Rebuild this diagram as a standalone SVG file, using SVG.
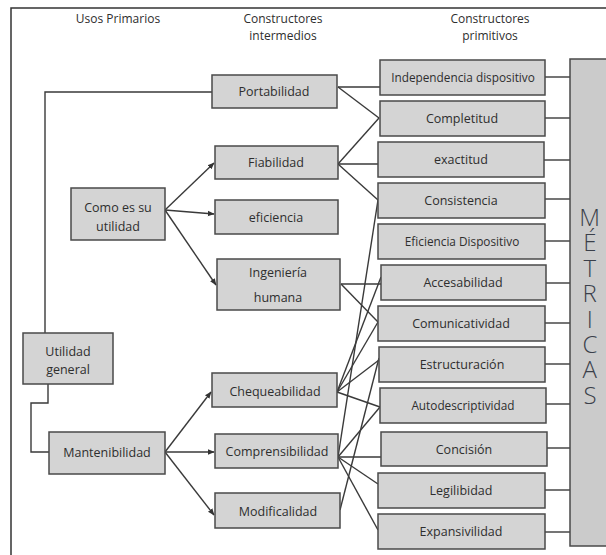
<svg xmlns="http://www.w3.org/2000/svg" width="606" height="555" viewBox="0 0 606 555">
<style>
.box{fill:#d4d4d4;stroke:#4a4a4a;stroke-width:1.5}
.t{font-family:"Open Sans","Noto Sans",sans-serif;font-size:12.5px;fill:#2e2e2e;text-anchor:middle}
.s{font-size:11.8px}
.h{font-family:"Open Sans","Noto Sans",sans-serif;font-size:12px;fill:#2e2e2e;text-anchor:middle}
.m{font-family:"Open Sans","Noto Sans",sans-serif;font-size:24px;fill:#3a3f4a;font-weight:300;writing-mode:vertical-rl;text-orientation:upright;letter-spacing:-7.6px}
.c{fill:none;stroke:#3a3a3a;stroke-width:1.4}
</style>
<defs>
<marker id="ah" viewBox="0 0 10 10" refX="9" refY="5" markerWidth="7" markerHeight="7" orient="auto" markerUnits="userSpaceOnUse">
<path d="M0,1 L10,5 L0,9 z" fill="#333"/>
</marker>
</defs>
<rect x="0" y="0" width="606" height="555" fill="#fff"/>
<rect x="11" y="8" width="620" height="570" fill="none" stroke="#333" stroke-width="1.5"/>
<g id="headers">
<text class="h" x="118" y="23">Usos Primarios</text>
<text class="h" x="283" y="23">Constructores</text>
<text class="h" x="283" y="40">intermedios</text>
<text class="h" x="490" y="23">Constructores</text>
<text class="h" x="490" y="40">primitivos</text>
</g>
<g id="connectors">
<path class="c" d="M45,333 V92 H212"/>
<path class="c" d="M48,384 V403 H31 V452 H49"/>
<line class="c" x1="165" y1="210" x2="214" y2="163" marker-end="url(#ah)"/>
<line class="c" x1="165" y1="210" x2="214" y2="214" marker-end="url(#ah)"/>
<line class="c" x1="165" y1="210" x2="216" y2="285" marker-end="url(#ah)"/>
<line class="c" x1="165" y1="452" x2="211" y2="392" marker-end="url(#ah)"/>
<line class="c" x1="165" y1="452" x2="214" y2="452" marker-end="url(#ah)"/>
<line class="c" x1="165" y1="452" x2="214" y2="515" marker-end="url(#ah)"/>
<line class="c" x1="338" y1="87" x2="380" y2="87"/>
<line class="c" x1="338" y1="87" x2="379" y2="118"/>
<line class="c" x1="338" y1="164" x2="379" y2="118"/>
<line class="c" x1="338" y1="164" x2="378" y2="164"/>
<line class="c" x1="338" y1="164" x2="378" y2="200"/>
<line class="c" x1="341" y1="284" x2="381" y2="284"/>
<line class="c" x1="341" y1="284" x2="378" y2="322"/>
<line class="c" x1="337" y1="392" x2="381" y2="277"/>
<line class="c" x1="337" y1="392" x2="378" y2="322"/>
<line class="c" x1="337" y1="392" x2="379" y2="360"/>
<line class="c" x1="337" y1="392" x2="380" y2="407"/>
<line class="c" x1="338" y1="457" x2="378" y2="200"/>
<line class="c" x1="338" y1="457" x2="380" y2="407"/>
<line class="c" x1="338" y1="457" x2="381" y2="457"/>
<line class="c" x1="338" y1="457" x2="378" y2="484"/>
<line class="c" x1="338" y1="457" x2="378" y2="530"/>
<line class="c" x1="340" y1="510" x2="379" y2="358"/>
<line class="c" x1="545" y1="77" x2="570" y2="77"/>
<line class="c" x1="545" y1="118" x2="570" y2="118"/>
<line class="c" x1="544" y1="160" x2="570" y2="160"/>
<line class="c" x1="545" y1="199" x2="570" y2="199"/>
<line class="c" x1="545" y1="241" x2="570" y2="241"/>
<line class="c" x1="546" y1="283" x2="570" y2="283"/>
<line class="c" x1="545" y1="323" x2="570" y2="323"/>
<line class="c" x1="545" y1="364" x2="570" y2="364"/>
<line class="c" x1="546" y1="404" x2="570" y2="404"/>
<line class="c" x1="547" y1="448" x2="570" y2="448"/>
<line class="c" x1="545" y1="490" x2="570" y2="490"/>
<line class="c" x1="545" y1="532" x2="570" y2="532"/>
</g>
<g id="utilidad-general"><rect class="box" x="23" y="333" width="90" height="51"/><text class="t" x="68" y="356">Utilidad</text><text class="t" x="68" y="374">general</text></g>
<g id="como-es-su-utilidad"><rect class="box" x="71" y="188" width="94" height="52"/><text class="t" x="118" y="212">Como es su</text><text class="t" x="118" y="231">utilidad</text></g>
<g id="mantenibilidad"><rect class="box" x="49" y="432" width="116" height="42"/><text class="t" x="107" y="457">Mantenibilidad</text></g>
<g id="portabilidad"><rect class="box" x="212" y="75" width="125" height="33"/><text class="t" x="274" y="96">Portabilidad</text></g>
<g id="fiabilidad"><rect class="box" x="215" y="146" width="123" height="33"/><text class="t" x="276" y="167">Fiabilidad</text></g>
<g id="eficiencia"><rect class="box" x="215" y="200" width="123" height="34"/><text class="t" x="276" y="222">eficiencia</text></g>
<g id="ingenieria-humana"><rect class="box" x="217" y="259" width="123" height="51"/><text class="t" x="278" y="277">Ingeniería</text><text class="t" x="278" y="302">humana</text></g>
<g id="chequeabilidad"><rect class="box" x="212" y="373" width="125" height="34"/><text class="t" x="275" y="396">Chequeabilidad</text></g>
<g id="comprensibilidad"><rect class="box" x="215" y="434" width="123" height="34"/><text class="t" x="277" y="456">Comprensibilidad</text></g>
<g id="modificalidad"><rect class="box" x="215" y="493" width="125" height="35"/><text class="t" x="278" y="516">Modificalidad</text></g>
<g id="independencia-dispositivo"><rect class="box" x="380" y="60" width="165" height="35"/><text class="t s" x="463" y="82">Independencia dispositivo</text></g>
<g id="completitud"><rect class="box" x="380" y="101" width="165" height="35"/><text class="t" x="462" y="123">Completitud</text></g>
<g id="exactitud"><rect class="box" x="378" y="142" width="166" height="35"/><text class="t" x="461" y="164">exactitud</text></g>
<g id="consistencia"><rect class="box" x="378" y="183" width="167" height="35"/><text class="t" x="461" y="205">Consistencia</text></g>
<g id="eficiencia-dispositivo"><rect class="box" x="378" y="224" width="167" height="35"/><text class="t s" x="462" y="246">Eficiencia Dispositivo</text></g>
<g id="accesabilidad"><rect class="box" x="381" y="265" width="165" height="35"/><text class="t" x="463" y="287">Accesabilidad</text></g>
<g id="comunicatividad"><rect class="box" x="378" y="306" width="167" height="35"/><text class="t" x="461" y="328">Comunicatividad</text></g>
<g id="estructuracion"><rect class="box" x="379" y="347" width="166" height="35"/><text class="t" x="462" y="369">Estructuración</text></g>
<g id="autodescriptividad"><rect class="box" x="380" y="388" width="166" height="35"/><text class="t s" x="463" y="410">Autodescriptividad</text></g>
<g id="concision"><rect class="box" x="381" y="432" width="166" height="34"/><text class="t" x="464" y="454">Concisión</text></g>
<g id="legilibidad"><rect class="box" x="378" y="473" width="167" height="35"/><text class="t" x="461" y="495">Legilibidad</text></g>
<g id="expansivilidad"><rect class="box" x="378" y="514" width="167" height="35"/><text class="t" x="461" y="536">Expansivilidad</text></g>
<g id="metricas"><rect class="box" x="570" y="59" width="60" height="487" style="fill:#cbcbcb"/>
<text class="m" x="590" y="200">MÉTRICAS</text>
</g>
</svg>
